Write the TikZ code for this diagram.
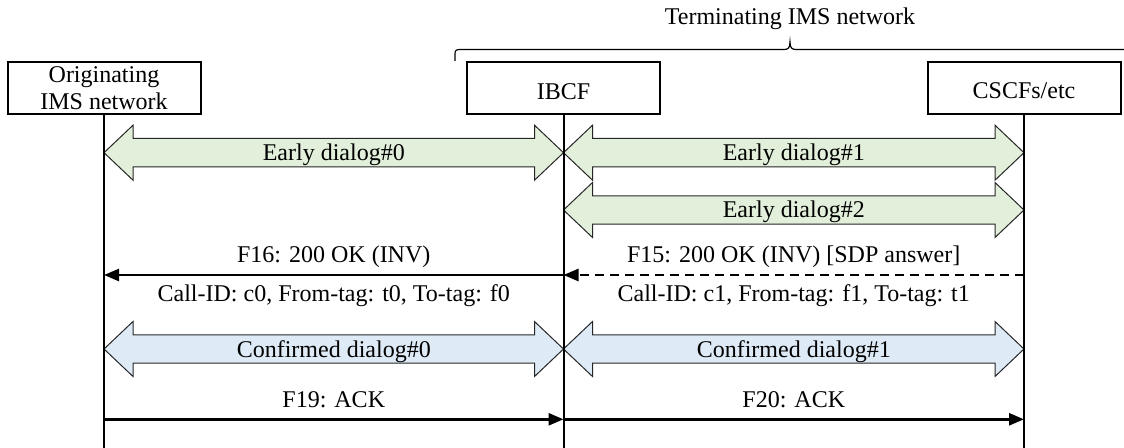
\documentclass[tikz,border=0pt]{standalone}
\usepackage{fontspec}
\setmainfont{Liberation Serif}
\usetikzlibrary{arrows.meta}
\definecolor{earlyfill}{HTML}{E2EFDA}
\definecolor{conffill}{HTML}{DEEBF7}
\newcommand\dlgblock[4]{% xa, xb, y, fill colour
  \filldraw[blk, fill=#4] (#1,#3) -- ({#1+29},{#3-27.5}) -- ({#1+29},{#3-14.2})
    -- ({#2-29},{#3-14.2}) -- ({#2-29},{#3-27.5}) -- (#2,#3)
    -- ({#2-29},{#3+27.5}) -- ({#2-29},{#3+14.2}) -- ({#1+29},{#3+14.2})
    -- ({#1+29},{#3+27.5}) -- cycle;}
\begin{document}
\begin{tikzpicture}[x=0.5pt,y=-0.5pt,
  font=\fontsize{12}{13.8}\selectfont,
  ent/.style={draw, line width=1pt, minimum width=96.5pt, minimum height=26pt, inner sep=0pt},
  life/.style={line width=1pt},
  msg/.style={line width=1.3pt, -{Triangle[length=7.5pt,width=6pt]}},
  dmsg/.style={msg, dash pattern=on 4.5pt off 3pt},
  lbl/.style={anchor=base, inner sep=0pt},
  blk/.style={draw=black!85, line width=0.5pt}]
\useasboundingbox (0,0) rectangle (1124,448);

% entities
\node[ent] (orig) at (104,88) {};
\node[ent] (ibcf) at (563.5,88) {};
\node[ent] (cscf) at (1024,88) {};
\node[align=center, inner sep=0pt] (origt) at (104,88) {Originating\\IMS network};
\node[lbl] (ibcft) at (563.5,100) {IBCF};
\node[lbl] (cscft) at (1024,99) {CSCFs/etc};

% brace for terminating network
\draw[line width=0.6pt] (455,61) -- (455,54) .. controls (455,50.5) and (456,49.5) .. (460,49.5)
  -- (784,49.5) .. controls (788,49.5) and (790,48) .. (790,42)
  .. controls (790,48) and (792,49.5) .. (796,49.5) -- (1130,49.5);
\node[lbl] (term) at (790,25) {Terminating IMS network};

% dialog blocks
\dlgblock{104}{563.5}{152.7}{earlyfill}
\dlgblock{563.5}{1024}{152.7}{earlyfill}
\dlgblock{563.5}{1024}{210}{earlyfill}
\dlgblock{104}{563.5}{349}{conffill}
\dlgblock{563.5}{1024}{349}{conffill}
\node[lbl] (ed0) at (333.75,160.7) {Early dialog\#0};
\node[lbl] (ed1) at (793.75,160.7) {Early dialog\#1};
\node[lbl] (ed2) at (793.75,218) {Early dialog\#2};
\node[lbl] (cd0) at (333.75,357.5) {Confirmed dialog\#0};
\node[lbl] (cd1) at (793.75,357.5) {Confirmed dialog\#1};

% lifeline ends and message points
\coordinate (origend) at (104,448);
\coordinate (ibcfend) at (563.5,448);
\coordinate (cscfend) at (1024,448);
\coordinate (o16) at (104,275);
\coordinate (i16) at (563.5,275);
\coordinate (c15) at (1024,275);
\coordinate (o19) at (104,419.3);
\coordinate (i19) at (563.5,419.3);
\coordinate (c20) at (1024,419.3);

\draw[life] (orig.south) -- (origend);
\draw[life] (ibcf.south) -- (ibcfend);
\draw[life] (cscf.south) -- (cscfend);

% messages
\draw[msg] (i16) -- (o16);
\draw[dmsg] (c15) -- (i16);
\draw[msg] (o19) -- (i19);
\draw[msg] (i19) -- (c20);

\node[lbl] (f16) at (333.75,262.7) {F16: 200 OK (INV)};
\node[lbl] (f15) at (793.75,262.7) {F15: 200 OK (INV) [SDP answer]};
\node[lbl] (cid0) at (333.75,301.5) {Call-ID: c0, From-tag: t0, To-tag: f0};
\node[lbl] (cid1) at (793.75,301.5) {Call-ID: c1, From-tag: f1, To-tag: t1};
\node[lbl] (f19) at (333.75,408) {F19: ACK};
\node[lbl] (f20) at (793.75,408) {F20: ACK};
\end{tikzpicture}
\end{document}
